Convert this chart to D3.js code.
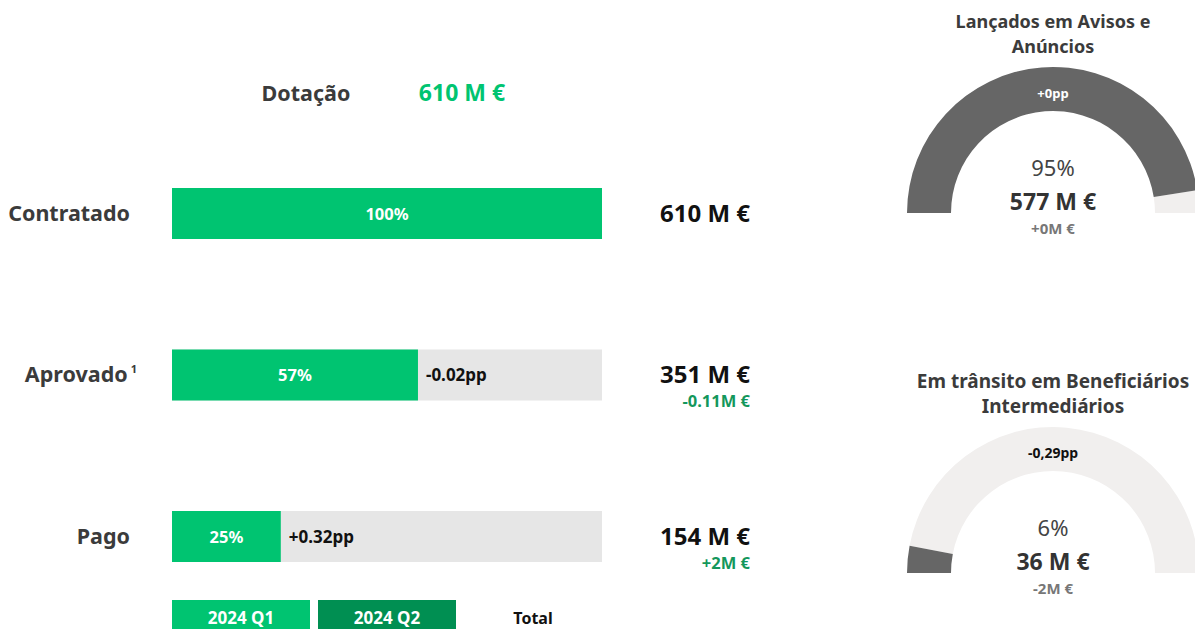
<!DOCTYPE html>
<html>
<head>
<meta charset="utf-8">
<script src="https://cdn.jsdelivr.net/npm/d3@7"></script>
<style>
  body { margin: 0; background: #fff; }
  svg { display: block; font-family: "Segoe UI", "Noto Sans", sans-serif; }
</style>
</head>
<body>
<svg width="1195" height="629"></svg>
<script>
var dotacao = 610;

var categories = ["Contratado", "Aprovado", "Pago"],
    amounts = [610, 351, 154],          // M €
    shares = [1, 0.572, 0.253],
    ppDelta = [null, "-0.02pp", "+0.32pp"],
    amountDelta = [null, "-0.11M €", "+2M €"];

var legendLabels = ["2024 Q1", "2024 Q2", "Total"];

var gaugeTitles = [["Lançados em Avisos e", "Anúncios"], ["Em trânsito em Beneficiários", "Intermediários"]],
    gaugeShares = [0.95, 0.06],
    gaugeAmounts = [577, 36],
    gaugePP = ["+0pp", "-0,29pp"],
    gaugeDelta = ["+0M €", "-2M €"];

var green = "#00c471", darkGreen = "#008f52", grey = "#e6e6e6",
    textDark = "#3b3b3b", gaugeDark = "#666666", gaugeLight = "#f1efee";

var svg = d3.select("svg");

var x = d3.scaleLinear().domain([0, 1]).range([172, 602]);
var y = d3.scalePoint().domain(categories).range([213.5, 536.5]);
var barH = 51;

// header
svg.append("text").attr("x", 306).attr("y", 101).attr("text-anchor", "middle")
    .attr("font-size", 21.5).attr("font-weight", "bold").attr("fill", textDark).text("Dotação");
svg.append("text").attr("x", 462).attr("y", 101).attr("text-anchor", "middle")
    .attr("font-size", 23).attr("font-weight", "bold").attr("fill", green).text(dotacao + " M €");

var rows = svg.append("g").selectAll("g")
    .data(categories)
    .enter().append("g")
    .attr("transform", function(d) { return "translate(0," + y(d) + ")"; });

rows.append("rect")
    .attr("x", x(0)).attr("y", -barH / 2)
    .attr("width", x(1) - x(0)).attr("height", barH)
    .attr("fill", grey);

rows.append("rect")
    .attr("x", x(0)).attr("y", -barH / 2)
    .attr("width", function(d, i) { return x(shares[i]) - x(0); })
    .attr("height", barH)
    .attr("fill", green);

rows.append("text")
    .attr("x", function(d, i) { return (x(0) + x(shares[i])) / 2; })
    .attr("y", 6)
    .attr("text-anchor", "middle")
    .attr("font-size", 16.5).attr("font-weight", "bold").attr("fill", "#fff")
    .text(function(d, i) { return Math.round(shares[i] * 100) + "%"; });

rows.append("text")
    .attr("x", function(d, i) { return x(shares[i]) + 8; })
    .attr("y", 6)
    .attr("font-size", 17).attr("font-weight", "bold").attr("fill", "#111")
    .text(function(d, i) { return ppDelta[i] || ""; });

var lab = rows.append("text")
    .attr("x", 130).attr("y", 7)
    .attr("text-anchor", "end")
    .attr("font-size", 21.5).attr("font-weight", "bold").attr("fill", textDark);
lab.text(function(d) { return d; });
lab.filter(function(d) { return d === "Aprovado"; })
    .attr("x", 137)
    .append("tspan").attr("dy", -9).attr("dx", 3).attr("font-size", 11).text("1");

rows.append("text")
    .attr("x", 750).attr("y", 8)
    .attr("text-anchor", "end")
    .attr("font-size", 24).attr("font-weight", "bold").attr("fill", "#111")
    .text(function(d, i) { return amounts[i] + " M €"; });

rows.append("text")
    .attr("x", 750).attr("y", 32)
    .attr("text-anchor", "end")
    .attr("font-size", 16.5).attr("font-weight", "bold").attr("fill", "#14975c")
    .text(function(d, i) { return amountDelta[i] || ""; });

// legend
var legX = [172, 318, 464];
var leg = svg.append("g").selectAll("g").data(legendLabels).enter().append("g")
    .attr("transform", function(d, i) { return "translate(" + legX[i] + ",600)"; });
leg.append("rect").attr("width", 138).attr("height", 32)
    .attr("fill", function(d, i) { return i === 0 ? green : i === 1 ? darkGreen : "none"; });
leg.append("text").attr("x", 69).attr("y", 24).attr("text-anchor", "middle")
    .attr("font-size", function(d, i) { return i < 2 ? 17 : 16; }).attr("font-weight", "bold")
    .attr("fill", function(d, i) { return i < 2 ? "#fff" : "#111"; })
    .text(function(d) { return d; });

// gauges
var gaugeCY = [213, 573], gaugeCX = 1053, rOut = 146, rIn = 102;
var angle = d3.scaleLinear().domain([0, 1]).range([-Math.PI / 2, Math.PI / 2]);
var arc = d3.arc().innerRadius(rIn).outerRadius(rOut);

gaugeTitles.forEach(function(t, i) {
  var g = svg.append("g").attr("transform", "translate(" + gaugeCX + "," + gaugeCY[i] + ")");
  g.append("text").attr("x", 0).attr("y", -185).attr("text-anchor", "middle")
      .attr("font-size", i === 0 ? 18 : 19).attr("font-weight", "bold").attr("fill", textDark)
      .selectAll("tspan").data(t).enter().append("tspan")
      .attr("x", 0).attr("dy", function(d, j) { return j ? 25 : 0; })
      .text(function(d) { return d; });
  g.append("path").attr("d", arc({startAngle: angle(gaugeShares[i]), endAngle: angle(1)})).attr("fill", gaugeLight);
  g.append("path").attr("d", arc({startAngle: angle(0), endAngle: angle(gaugeShares[i])})).attr("fill", gaugeDark);
  g.append("text").attr("y", -115).attr("text-anchor", "middle")
      .attr("font-size", i === 0 ? 13 : 14).attr("font-weight", "bold")
      .attr("fill", gaugeShares[i] > 0.5 ? "#fff" : "#111").text(gaugePP[i]);
  g.append("text").attr("y", -37).attr("text-anchor", "middle")
      .attr("font-size", 22).attr("fill", "#444").text(Math.round(gaugeShares[i] * 100) + "%");
  g.append("text").attr("y", -3).attr("text-anchor", "middle")
      .attr("font-size", 23).attr("font-weight", "bold").attr("fill", "#333").text(gaugeAmounts[i] + " M €");
  g.append("text").attr("y", 21).attr("text-anchor", "middle")
      .attr("font-size", 15).attr("font-weight", "bold").attr("fill", "#777").text(gaugeDelta[i]);
});
</script>
</body>
</html>
